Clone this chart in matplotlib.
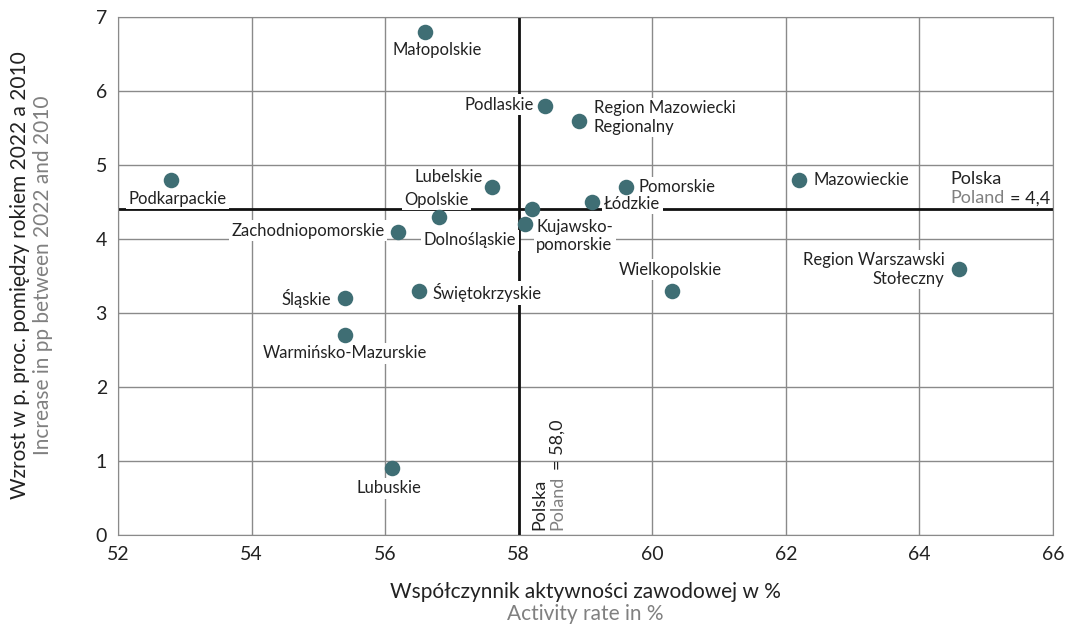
import matplotlib
matplotlib.use("Agg")
import matplotlib.pyplot as plt

plt.rcParams['font.family'] = ['Lato', 'DejaVu Sans']

# activity rate (%) and increase in pp 2010-2022
regions = ['Małopolskie', 'Podlaskie', 'Region Mazowiecki\nRegionalny', 'Podkarpackie',
           'Lubelskie', 'Pomorskie', 'Mazowieckie', 'Łódzkie', 'Opolskie',
           'Zachodniopomorskie', 'Dolnośląskie', 'Kujawsko-\npomorskie', 'Wielkopolskie',
           'Region Warszawski\nStołeczny', 'Śląskie', 'Świętokrzyskie',
           'Warmińsko-Mazurskie', 'Lubuskie']
activity = [56.6, 58.4, 58.9, 52.8, 57.6, 59.6, 62.2, 59.1, 56.8,
            56.2, 58.2, 58.1, 60.3, 64.6, 55.4, 56.5, 55.4, 56.1]
increase = [6.8, 5.8, 5.6, 4.8, 4.7, 4.7, 4.8, 4.5, 4.3,
            4.1, 4.4, 4.2, 3.3, 3.6, 3.2, 3.3, 2.7, 0.9]
poland_x = 58.0
poland_y = 4.4

# label placement: (dx px, dy px, ha)
label_pos = [(12, -18, 'center'), (-12, 1, 'right'), (15, 3, 'left'), (6, -19, 'center'),
             (-9, 10, 'right'), (13, 0, 'left'), (14, 0, 'left'), (12, -2, 'left'),
             (-2, 17, 'center'), (-14, 1, 'right'), (-16, -31, 'right'), (11, -12, 'left'),
             (-2, 21, 'center'), (-15, -1, 'right'), (-14, 0, 'right'), (14, -2, 'left'),
             (0, -18, 'center'), (-3, -20, 'center')]

dot_color = '#3f6e74'
grey_txt = '#808080'
dark_txt = '#222222'

fig = plt.figure(figsize=(10.66, 6.25), dpi=100)
ax = fig.add_axes([0.1107, 0.144, 0.877, 0.829])
ax.set_xlim(52, 66)
ax.set_ylim(0, 7)
ax.set_xticks(range(52, 67, 2))
ax.set_yticks(range(0, 8))
ax.grid(True, color='#8a8a8a', lw=1)
ax.set_axisbelow(True)
for s in ax.spines.values():
    s.set_color('#8a8a8a')
ax.tick_params(length=0, labelsize=14, pad=8, colors=dark_txt)

ax.axvline(poland_x, color='#111111', lw=2, zorder=2)
ax.axhline(poland_y, color='#111111', lw=2, zorder=2)

ax.scatter(activity, increase, s=125, color=dot_color, zorder=4, linewidths=0)

for name, x, y, (dx, dy, ha) in zip(regions, activity, increase, label_pos):
    ax.annotate(name, (x, y), xytext=(dx, dy), textcoords='offset pixels',
                ha=ha, va='center', multialignment=ha if ha != 'center' else 'left',
                fontsize=12, color=dark_txt, zorder=3, linespacing=1.2,
                bbox=dict(boxstyle='square,pad=0.15', fc='white', ec='none'))

# Polska horizontal marker
ax.text(64.46, 4.74, 'Polska', fontsize=13, color=dark_txt, ha='left', va='baseline',
        bbox=dict(boxstyle='square,pad=0.15', fc='white', ec='none'), zorder=3)
t1 = ax.text(64.46, 4.48, 'Poland', fontsize=13, color=grey_txt, ha='left', va='baseline',
             zorder=3)
ax.annotate('= 4,4', xy=(1, 0), xycoords=t1, xytext=(6, 0), textcoords='offset pixels',
            fontsize=13, color=dark_txt, ha='left', va='bottom', zorder=3)

# Polska vertical marker
ax.text(58.39, 0.07, 'Polska', fontsize=13, color=dark_txt, rotation=90,
        rotation_mode='anchor', ha='left', va='baseline', zorder=3,
        bbox=dict(boxstyle='square,pad=0.15', fc='white', ec='none'))
t2 = ax.text(58.66, 0.07, 'Poland', fontsize=13, color=grey_txt, rotation=90,
             rotation_mode='anchor', ha='left', va='baseline', zorder=3)
ax.annotate('= 58,0', xy=(1, 1), xycoords=t2, xytext=(0, 6), textcoords='offset pixels',
            fontsize=13, color=dark_txt, rotation=90,
            rotation_mode='anchor', ha='left', va='bottom', zorder=3)

# axis titles
fig.text(0.549, 0.052, 'Współczynnik aktywności zawodowej w %', ha='center', va='center',
         fontsize=15, color=dark_txt)
fig.text(0.549, 0.017, 'Activity rate in %', ha='center', va='center',
         fontsize=15, color=grey_txt)
fig.text(0.019, 0.56, 'Wzrost w p. proc. pomiędzy rokiem 2022 a 2010', rotation=90,
         ha='center', va='center', fontsize=15, color=dark_txt)
fig.text(0.040, 0.56, 'Increase in pp between 2022 and 2010', rotation=90,
         ha='center', va='center', fontsize=15, color=grey_txt)

fig.savefig('out.png', dpi=100)
